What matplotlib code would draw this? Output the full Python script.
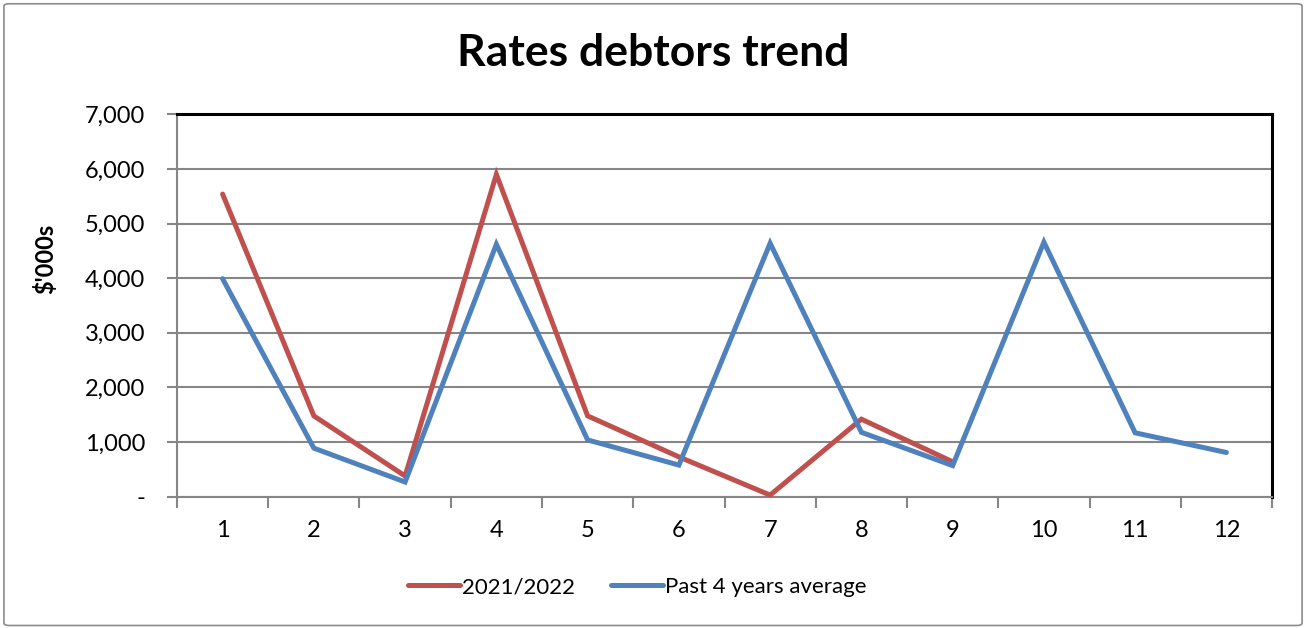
import matplotlib
matplotlib.use("Agg")
import matplotlib.pyplot as plt
from matplotlib.patches import FancyBboxPatch
from matplotlib.ticker import FixedLocator, FuncFormatter

# Monthly rates debtors ($'000s)
meses = list(range(1, 13))
atual = [5540, 1480, 380, 5900, 1480, 730, 30, 1420, 640]
media_4_anos = [3990, 890, 270, 4620, 1040, 580, 4640, 1180, 570, 4660, 1170, 810]

COR_ATUAL = "#C0504D"
COR_MEDIA = "#4F81BD"
COR_GRADE = "#868686"

plt.rcParams["font.family"] = ["Lato", "DejaVu Sans"]

fig = plt.figure(figsize=(13.06, 6.28), dpi=100)
ax = fig.add_axes([0.1355, 0.209, 0.974 - 0.1355, 0.818 - 0.209])

# Borda externa arredondada
fig.patches.append(FancyBboxPatch((0.003, 0.004), 0.994, 0.99, boxstyle="round,pad=0,rounding_size=0.004",
                                  transform=fig.transFigure, facecolor="none",
                                  edgecolor="#8C8C8C", linewidth=1.2))

ax.plot(meses[:len(atual)], atual, color=COR_ATUAL, lw=3.6, solid_joinstyle="miter",
        solid_capstyle="round", label="2021/2022", zorder=3)
ax.plot(meses, media_4_anos, color=COR_MEDIA, lw=3.6, solid_joinstyle="miter",
        solid_capstyle="round", label="Past 4 years average", zorder=4)

ax.set_xlim(0.5, 12.5)
ax.set_ylim(0, 7000)

ax.set_yticks(range(0, 7001, 1000))
ax.yaxis.set_major_formatter(FuncFormatter(lambda v, p: "-" if v == 0 else f"{int(v):,}"))
ax.grid(axis="y", color=COR_GRADE, lw=1.5)
ax.set_axisbelow(True)

ax.set_xticks(meses)
ax.set_xticklabels([str(m) for m in meses])
ax.xaxis.set_minor_locator(FixedLocator([m + 0.5 for m in range(0, 13)]))
ax.tick_params(axis="x", which="major", length=0, pad=17, labelsize=17)
ax.tick_params(axis="x", which="minor", length=8, width=1.5, color=COR_GRADE, direction="out")
ax.tick_params(axis="y", length=7, width=1.5, color=COR_GRADE, direction="out", pad=16, labelsize=17)

for lado in ("left", "bottom"):
    ax.spines[lado].set_color(COR_GRADE)
    ax.spines[lado].set_linewidth(1.5)
for lado in ("top", "right"):
    ax.spines[lado].set_color("black")
    ax.spines[lado].set_linewidth(2.2)

ax.set_ylabel("$'000s", fontsize=17, fontweight="bold")
ax.yaxis.set_label_coords(-0.1096, 0.622)
fig.suptitle("Rates debtors trend", fontsize=32, fontweight="bold", y=0.948)

fig.legend(loc="center", bbox_to_anchor=(0.488, 0.065), ncol=2, frameon=False,
           fontsize=16, handlelength=2.35, handletextpad=0.1, columnspacing=1.6)

fig.savefig("out.png", dpi=100, facecolor="white")
